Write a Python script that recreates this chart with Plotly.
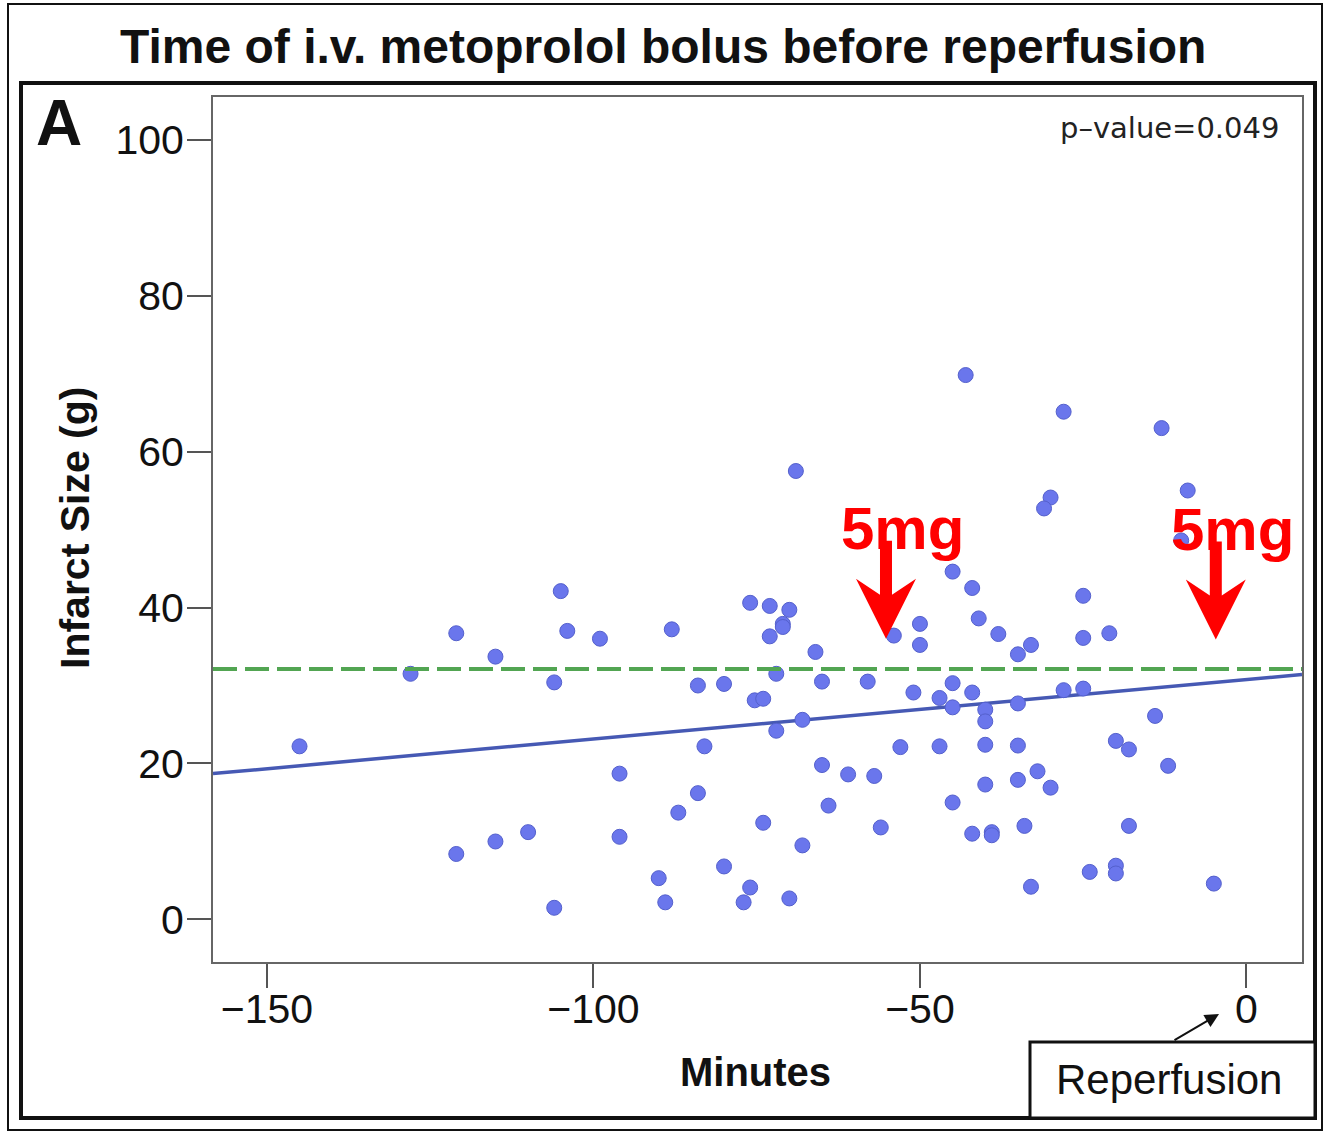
import plotly.graph_objects as go

# infarct size (g) vs time of i.v. metoprolol bolus (minutes before reperfusion)
minutes = [
    -145, -128, -121, -121, -115, -115, -110, -106, -106, -105,
    -104, -99, -96, -96, -90, -89, -88, -87, -84, -84,
    -83, -80, -80, -77, -76, -76, -75.3, -74, -74, -43,
    -28, -13, -69, -30, -31, -9, -10, -45, -42, -25,
    -73, -70, -71, -71, -73, -66, -54, -50, -50, -41,
    -38, -33, -35, -25, -21, -72, -65, -58, -51, -47,
    -45, -42, -45, -40, -40, -35, -28, -25, -68, -72,
    -14, -53, -47, -40, -35, -20, -18, -65, -61, -57,
    -40, -35, -32, -30, -12, -64, -45, -56, -42, -39,
    -39, -34, -18, -68, -24, -20, -20, -33, -5, -70,
]
infarct_size = [
    22.2, 31.5, 36.7, 8.4, 33.7, 10.0, 11.2, 30.4, 1.5, 42.1,
    37.0, 36.0, 18.7, 10.6, 5.3, 2.2, 37.2, 13.7, 30.0, 16.2,
    22.2, 30.2, 6.8, 2.2, 4.1, 40.6, 28.1, 28.3, 12.4, 69.8,
    65.1, 63.0, 57.5, 54.1, 52.7, 55.0, 48.6, 44.6, 42.5, 41.5,
    40.2, 39.7, 37.9, 37.5, 36.3, 34.3, 36.4, 37.9, 35.2, 38.6,
    36.6, 35.2, 34.0, 36.1, 36.7, 31.5, 30.5, 30.5, 29.1, 28.4,
    30.3, 29.1, 27.2, 26.9, 25.4, 27.7, 29.4, 29.6, 25.6, 24.2,
    26.1, 22.1, 22.2, 22.4, 22.3, 22.9, 21.8, 19.8, 18.6, 18.4,
    17.3, 17.9, 19.0, 16.9, 19.7, 14.6, 15.0, 11.8, 11.0, 11.2,
    10.8, 12.0, 12.0, 9.5, 6.1, 6.9, 5.9, 4.2, 4.6, 2.7,
]

# fitted line (read at both plot edges) and the reference mean
fit_minutes = [-158.25, 8.5]
fit_size = [18.7, 31.4]
mean_size = 32.1

# 5 mg boluses
dose_minutes = [-55.2, -4.7]
dose_level = [36.0, 35.9]

x_ticks = [-150, -100, -50, 0]
y_ticks = [0, 20, 40, 60, 80, 100]

W, H = 1328, 1135
L, R, T, B = 213, 26, 97, 173


def px(x):
    # page pixel -> paper fraction
    return (x - L) / (W - L - R)


def py(y):
    return (H - B - y) / (H - T - B)


fig = go.Figure()

fig.add_trace(go.Scatter(
    x=fit_minutes, y=fit_size, mode='lines',
    line=dict(color='#4659b4', width=3.5), hoverinfo='skip'
))
fig.add_hline(y=mean_size, line=dict(color='#52a552', width=4, dash='24px,8px'))
fig.add_trace(go.Scatter(
    x=minutes, y=infarct_size, mode='markers',
    marker=dict(size=15, color='rgb(106,118,236)',
                line=dict(color='rgb(84,96,204)', width=1))
))

# red bolus arrows (pixel geometry around the tip)
arrow_path = 'M0,0 L-30,60 L-6,44 L-6,98 L6,98 L6,44 L30,60 Z'
for xm, ym in zip(dose_minutes, dose_level):
    fig.add_shape(type='path', path=arrow_path, xref='x', yref='y',
                  xsizemode='pixel', ysizemode='pixel', xanchor=xm, yanchor=ym,
                  fillcolor='#ff0000', line=dict(width=0))
    fig.add_annotation(x=xm, y=ym, xref='x', yref='y', xshift=17, yshift=110,
                       xanchor='center', yanchor='middle',
                       text='<b>5mg</b>', showarrow=False,
                       font=dict(family='Liberation Sans', size=60, color='#ff0000'))

# frames
fig.add_shape(type='rect', xref='paper', yref='paper',
              x0=px(8), x1=px(1322), y0=py(1130), y1=py(4),
              line=dict(color='#111', width=2))
fig.add_shape(type='rect', xref='paper', yref='paper',
              x0=px(21), x1=px(1315), y0=py(1118), y1=py(83),
              line=dict(color='#111', width=4))
fig.add_shape(type='rect', xref='paper', yref='paper',
              x0=px(1030), x1=px(1315), y0=py(1118), y1=py(1042),
              fillcolor='white', line=dict(color='#111', width=3))

txt = dict(family='Liberation Sans, Arial', color='#111')
labels = [
    (663, 47, '<b>Time of i.v. metoprolol bolus before reperfusion</b>', 48, 0),
    (59, 123, '<b>A</b>', 64, 0),
    (75, 528, '<b>Infarct Size (g)</b>', 41, -90),
    (755, 1072, '<b>Minutes</b>', 40, 0),
    (1169, 1079, 'Reperfusion', 42, 0),
]
for lx, ly, text, size, angle in labels:
    fig.add_annotation(x=px(lx), y=py(ly), xref='paper', yref='paper', showarrow=False,
                       xanchor='center', yanchor='middle', textangle=angle,
                       text=text, font=dict(txt, size=size))

fig.add_annotation(x=px(1281), y=py(128), xref='paper', yref='paper', showarrow=False,
                   xanchor='right', yanchor='middle', text='p\u2013value=0.049',
                   font=dict(family='DejaVu Sans', size=29, color='#222'))
fig.add_annotation(x=px(1219), y=py(1014), xref='paper', yref='paper', text='',
                   showarrow=True, ax=-46, ay=27, arrowhead=2, arrowsize=1.4,
                   arrowwidth=2, arrowcolor='#111')

axis_common = dict(showgrid=False, zeroline=False, showline=True, mirror=True,
                   linecolor='#666', linewidth=2, ticks='outside', ticklen=24,
                   tickwidth=2, tickcolor='#555',
                   tickfont=dict(family='Liberation Sans, Arial', size=41, color='#111'))

fig.update_layout(
    width=W, height=H,
    margin=dict(l=L, r=R, t=T, b=B),
    paper_bgcolor='white', plot_bgcolor='white',
    showlegend=False,
    xaxis=dict(axis_common, range=[-158.25, 8.5], tickvals=x_ticks, ticklabelstandoff=-14),
    yaxis=dict(axis_common, range=[-5.45, 105.45], tickvals=y_ticks, ticklabelstandoff=-5),
)

# drop the browser's default page margin so the figure sits at (0, 0)
fig.write_html('out.html', config={'displayModeBar': False},
               post_script="document.body.style.margin='0';")
